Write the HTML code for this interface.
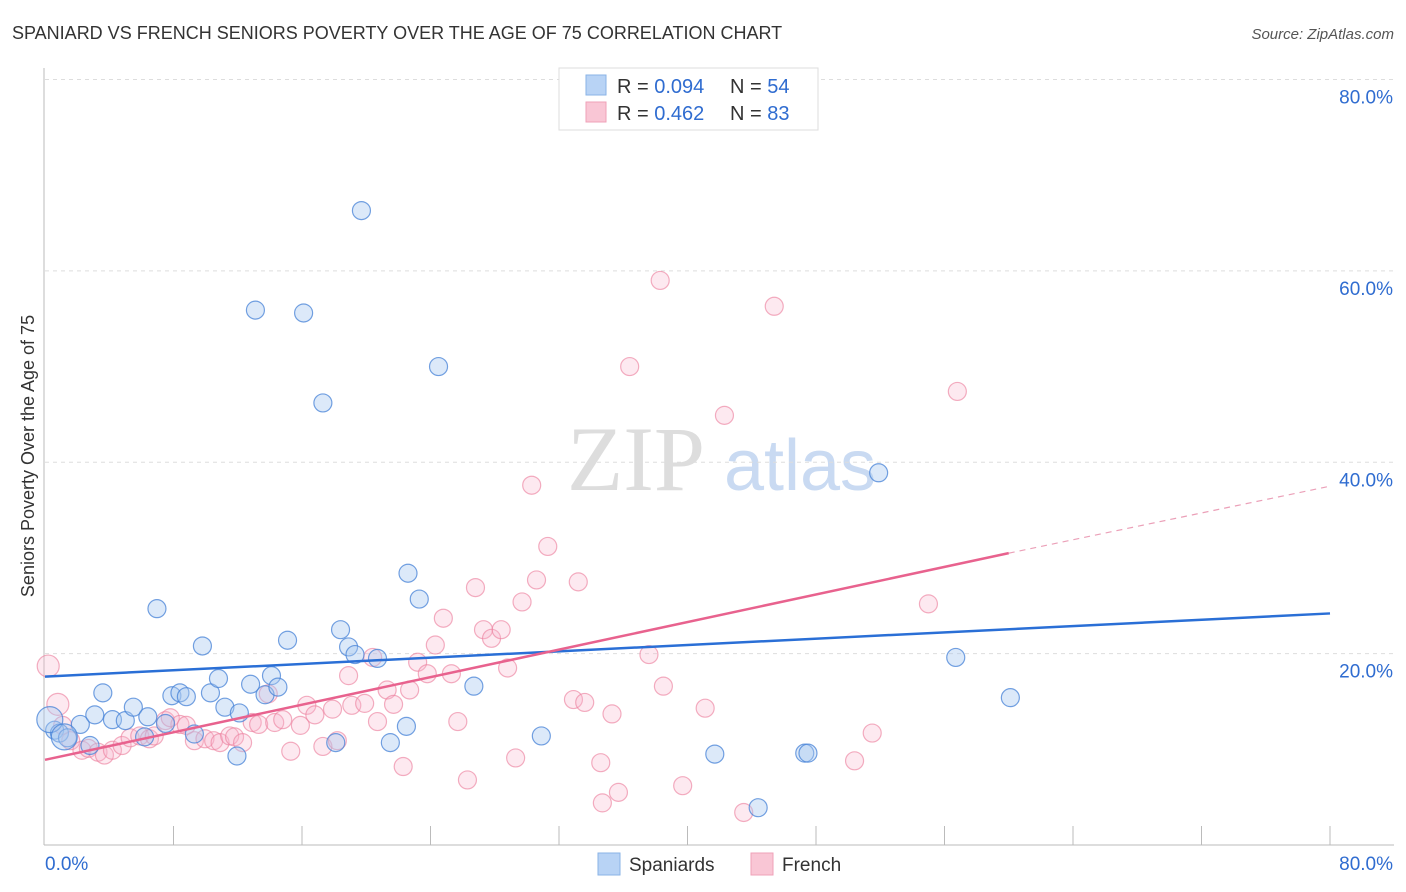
<!DOCTYPE html>
<html><head><meta charset="utf-8"><style>
body{margin:0;background:#fff;font-family:"Liberation Sans",sans-serif;}
svg{display:block}
</style></head><body>
<svg id="chart" width="1406" height="892">
<text x="12" y="39" font-size="18" fill="#333">SPANIARD VS FRENCH SENIORS POVERTY OVER THE AGE OF 75 CORRELATION CHART</text>
<text x="1394" y="39" font-size="15" fill="#555" text-anchor="end" font-style="italic">Source: ZipAtlas.com</text>
<text transform="translate(34,456) rotate(-90)" font-size="18" fill="#333" text-anchor="middle">Seniors Poverty Over the Age of 75</text>
<g><text x="636" y="490" font-family="Liberation Serif,serif" font-size="92" fill="#ddd" text-anchor="middle">ZIP</text><text x="800" y="490" font-size="72" fill="#c9daf2" text-anchor="middle">atlas</text></g>
<g id="grid"></g>
<g id="axes"></g>
<g id="trends"></g>
<g id="points"></g>
<g>
<rect x="559" y="68" width="259" height="62" fill="#fff" stroke="#ddd"/>
<rect x="586" y="75" width="20" height="20" fill="#b8d3f5" stroke="#8ab3e6"/>
<text x="617" y="93" font-size="20" fill="#333">R = <tspan fill="#2f6cd0">0.094</tspan></text>
<text x="730" y="93" font-size="20" fill="#333">N = <tspan fill="#2f6cd0">54</tspan></text>
<rect x="586" y="102" width="20" height="20" fill="#f9c6d5" stroke="#efa1b8"/>
<text x="617" y="120" font-size="20" fill="#333">R = <tspan fill="#2f6cd0">0.462</tspan></text>
<text x="730" y="120" font-size="20" fill="#333">N = <tspan fill="#2f6cd0">83</tspan></text>
</g>
<g>
<rect x="598" y="853" width="22" height="22" fill="#b8d3f5" stroke="#8ab3e6"/>
<text x="629" y="871" font-size="19" fill="#333">Spaniards</text>
<rect x="751" y="853" width="22" height="22" fill="#f9c6d5" stroke="#efa1b8"/>
<text x="782" y="871" font-size="19" fill="#333">French</text>
</g>
</svg>
<script>
const yTicks=[20,40,60,80];
const xTickLabels=["0.0%","80.0%"];
const blueX=[0.6,0.9,1.4,2.2,2.8,3.1,3.6,4.2,5.0,5.5,6.2,6.4,6.97,7.5,7.9,8.4,8.8,9.3,9.8,10.3,10.8,11.2,11.95,12.1,12.8,13.1,13.7,14.1,14.5,15.1,16.1,17.3,18.1,18.4,18.9,19.3,19.7,20.7,21.5,22.5,22.6,23.3,24.5,26.7,30.9,41.7,44.4,47.3,47.5,51.9,56.7,60.1,0.3,1.2];
const blueY=[12.0,11.7,11.2,12.6,10.4,13.6,15.9,13.1,13.0,14.4,11.3,13.4,24.7,12.7,15.6,15.9,15.5,11.6,20.8,15.9,17.4,14.4,9.3,13.8,16.8,55.9,15.7,17.7,16.5,21.4,55.6,46.2,10.7,22.5,20.7,19.9,66.3,19.5,10.7,12.4,28.4,25.7,50.0,16.6,11.4,9.5,3.9,9.6,9.6,38.9,19.6,15.4,13.1,11.3];
const pinkX=[0.2,0.8,1.1,1.6,2.3,2.7,3.3,3.7,4.2,4.8,5.3,5.9,6.5,6.8,7.5,7.8,8.4,8.8,9.3,9.96,10.5,10.9,11.5,11.8,12.3,12.9,13.3,13.9,14.3,14.8,15.3,15.9,16.3,16.8,17.3,17.9,18.2,18.9,19.1,19.9,20.4,20.7,21.3,21.7,22.3,22.7,23.2,23.8,24.3,24.8,25.3,25.7,26.3,26.8,27.3,27.8,28.4,28.8,29.3,29.7,30.3,30.6,31.3,32.9,33.2,33.6,34.6,34.7,35.3,35.7,36.4,37.6,38.3,38.5,39.7,41.1,42.3,43.5,45.4,50.4,51.5,55.0,56.8];
const pinkY=[18.7,14.7,12.5,10.9,9.9,10.1,9.7,9.4,9.9,10.4,11.2,11.4,11.1,11.4,13.0,13.3,12.6,12.5,10.9,11.1,10.9,10.7,11.4,11.3,10.7,12.8,12.6,15.8,12.8,13.1,9.8,12.5,14.6,13.6,10.3,14.2,10.9,17.7,14.6,14.8,19.6,12.9,16.2,14.7,8.2,16.2,19.1,17.9,20.9,23.7,17.9,12.9,6.8,26.9,22.5,21.6,22.5,18.5,9.1,25.4,37.6,27.7,31.2,15.2,27.5,14.9,8.6,4.4,13.7,5.5,50.0,19.9,59.0,16.6,6.2,14.3,44.9,3.4,56.3,8.8,11.7,25.2,47.4];
const blueTrend=[[0,17.6],[80,24.2]];
const pinkTrend=[[0,8.9],[60,30.5],[80,37.5]];
const X0=45,X1=1330,Y0=845,Y80=79.5;
const sx=v=>X0+(X1-X0)*v/80, sy=v=>Y0-(Y0-Y80)*v/80;
const NS="http://www.w3.org/2000/svg";
function mk(t,a,p){const e=document.createElementNS(NS,t);for(const k in a)e.setAttribute(k,a[k]);p.appendChild(e);return e;}
const grid=document.getElementById('grid'),axes=document.getElementById('axes'),tr=document.getElementById('trends'),pts=document.getElementById('points');
yTicks.forEach(t=>{const l=mk('line',{x1:45,x2:1394,y1:sy(t),y2:sy(t),stroke:'#ddd','stroke-dasharray':'4,4'},grid);


const tx=mk('text',{x:1393,y:sy(t)+24,'font-size':19,fill:'#2f6cd0','text-anchor':'end'},grid);tx.textContent=t.toFixed(1)+'%';

});
const ya=mk('line',{x1:44,x2:44,y1:68,y2:845,stroke:'#bbb'},axes);


const xa=mk('line',{x1:44,x2:1394,y1:845,y2:845,stroke:'#bbb'},axes);


for(let i=1;i<=10;i++){const t=mk('line',{x1:sx(i*8),x2:sx(i*8),y1:826,y2:845,stroke:'#bbb'},axes);

}
const l0=mk('text',{x:45,y:870,'font-size':19,fill:'#2f6cd0'},axes);l0.textContent=xTickLabels[0];


const l1=mk('text',{x:1393,y:870,'font-size':19,fill:'#2f6cd0','text-anchor':'end'},axes);l1.textContent=xTickLabels[1];


function dot(x,y,fill,stroke,name,r){const c=mk('circle',{cx:sx(x),cy:sy(y),r:r,fill:fill,stroke:stroke,'stroke-width':1.2},pts);

}
pinkX.forEach((x,i)=>dot(x,pinkY[i],'rgba(249,182,204,0.3)','rgba(236,130,160,0.65)','french-point',i<2?11:9));
blueX.forEach((x,i)=>dot(x,blueY[i],'rgba(168,200,240,0.4)','rgba(70,130,215,0.75)','spaniard-point',i>=52?13:9));
const bl=mk('line',{x1:sx(blueTrend[0][0]),y1:sy(blueTrend[0][1]),x2:sx(blueTrend[1][0]),y2:sy(blueTrend[1][1]),stroke:'#2a6fd6','stroke-width':2.5},tr);


const pl=mk('line',{x1:sx(pinkTrend[0][0]),y1:sy(pinkTrend[0][1]),x2:sx(pinkTrend[1][0]),y2:sy(pinkTrend[1][1]),stroke:'#e8628e','stroke-width':2.5},tr);


const pd=mk('line',{x1:sx(pinkTrend[1][0]),y1:sy(pinkTrend[1][1]),x2:sx(pinkTrend[2][0]),y2:sy(pinkTrend[2][1]),stroke:'#eba0b8','stroke-width':1.2,'stroke-dasharray':'6,5'},tr);


document.getElementById('chart').appendChild(tr);
</script>
</body></html>
